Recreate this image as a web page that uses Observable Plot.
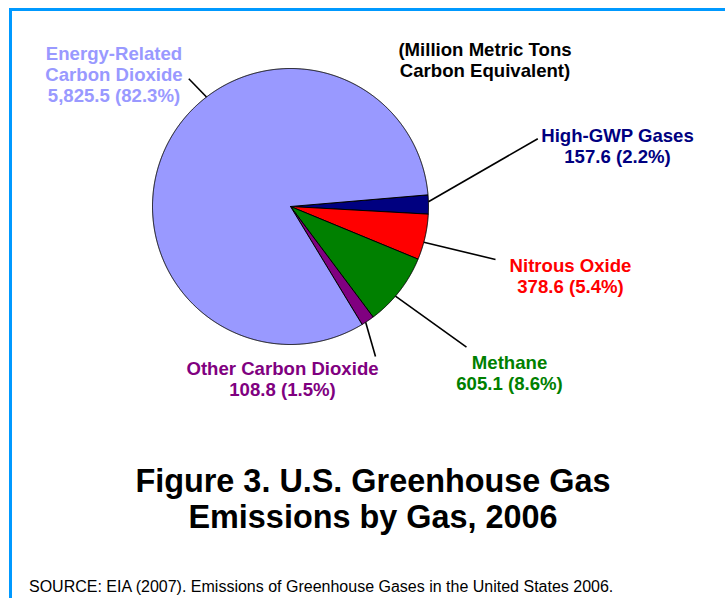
<!DOCTYPE html>
<html>
<head>
<meta charset="utf-8">
<script src="https://cdn.jsdelivr.net/npm/d3@7"></script>
<script src="https://cdn.jsdelivr.net/npm/@observablehq/plot@0.6"></script>
<style>
  html, body { margin: 0; padding: 0; background: #fff; overflow: hidden; }
  body { width: 725px; height: 598px; position: relative; font-family: "Liberation Sans", Arial, sans-serif; }
  #frame { position: absolute; left: 9px; top: 8px; width: 800px; height: 700px;
           border-top: 3px solid #0099FF; border-left: 3px solid #0099FF; z-index: 2; pointer-events: none; }
  #chart { position: absolute; left: 0; top: 0; z-index: 1; }
  #title { position: absolute; left: 0; top: 463px; width: 746px; text-align: center;
           font-weight: bold; font-size: 32.4px; line-height: 36px; color: #000; z-index: 1; }
  #source { position: absolute; left: 29px; top: 578px; font-size: 16px; line-height: 18px; color: #000; white-space: nowrap; z-index: 1; }
</style>
</head>
<body>
<div id="frame"></div>
<div id="chart"></div>
<div id="title">Figure 3. U.S. Greenhouse Gas<br>Emissions by Gas, 2006</div>
<div id="source">SOURCE: EIA (2007). Emissions of Greenhouse Gases in the United States 2006.</div>
<script>
// ---- Data ----
const categories = ["High-GWP Gases", "Nitrous Oxide", "Methane", "Other Carbon Dioxide", "Energy-Related Carbon Dioxide"];
const labelNames = ["High-GWP Gases", "Nitrous Oxide", "Methane", "Other Carbon Dioxide", "Energy-Related\nCarbon Dioxide"];
const values = [157.6, 378.6, 605.1, 108.8, 5825.5];
const unitNote = "(Million Metric Tons\nCarbon Equivalent)";

// ---- Styles / layout ----
const colors = ["#000080", "#FF0000", "#008000", "#800080", "#9999FF"];
const R = 138;                       // pie radius (px)
const startDeg = 85.15;              // first slice start angle (clockwise from 12 o'clock)
const labelPos = [[327, -44], [280, 86.5], [219, 183], [-8, 189], [-176.5, -105]];   // last-line baseline, relative to pie centre
const leaderEnd = [[247.3, -67.7], [205, 53], [176, 140.7], [85, 150], [-101.7, -127.7]];
const leaderDeg = [88, 105, 130.5, 147, 322.5];
const notePos = [194.5, -130];
const labelSize = 18.6;

const total = d3.sum(values);
const fmtV = d3.format(",.1f");
const fmtP = d3.format(".1f");

const arcs = d3.pie().sort(null)
  .startAngle(startDeg * Math.PI / 180)
  .endAngle(startDeg * Math.PI / 180 + 2 * Math.PI)(values);

const slicePts = [];
arcs.forEach((a, i) => {
  const cat = categories[i];
  slicePts.push({cat, x: 0, y: 0});
  const n = Math.max(2, Math.ceil((a.endAngle - a.startAngle) / (Math.PI / 720)));
  for (let k = 0; k <= n; k++) {
    const t = a.startAngle + (a.endAngle - a.startAngle) * k / n;
    slicePts.push({cat, x: R * Math.sin(t), y: -R * Math.cos(t)});
  }
  slicePts.push({cat, x: 0, y: 0});
});

const labels = categories.map((c, i) => ({
  cat: c,
  text: `${labelNames[i]}\n${fmtV(values[i])} (${fmtP(values[i] / total * 100)}%)`,
  x: labelPos[i][0], y: labelPos[i][1]
}));

const leaders = categories.map((c, i) => {
  const t = leaderDeg[i] * Math.PI / 180;
  return {cat: c, x1: R * Math.sin(t), y1: -R * Math.cos(t), x2: leaderEnd[i][0], y2: leaderEnd[i][1]};
});

const cx = 290, cy = 206, W = 725, H = 420;

const plot = Plot.plot({
  width: W, height: H,
  margin: 0,
  x: {domain: [-cx, W - cx], range: [0, W], axis: null},
  y: {domain: [-cy, H - cy], range: [0, H], axis: null},
  color: {domain: categories, range: colors},
  style: {fontFamily: "'Liberation Sans', Arial, sans-serif", background: "transparent", overflow: "visible"},
  marks: [
    Plot.line(slicePts, {x: "x", y: "y", z: "cat", fill: "cat", stroke: "black", strokeWidth: 1, strokeLinejoin: "round", curve: "linear"}),
    Plot.link(leaders, {x1: "x1", y1: "y1", x2: "x2", y2: "y2", stroke: "black", strokeWidth: 1.6}),
    Plot.text(labels, {x: "x", y: "y", text: "text", fill: "cat", fontSize: labelSize, fontWeight: "bold",
      textAnchor: "middle", lineAnchor: "bottom", lineHeight: 21 / labelSize}),
    Plot.text([unitNote], {x: () => notePos[0], y: () => notePos[1], text: d => d, fill: "black", fontSize: labelSize, fontWeight: "bold",
      textAnchor: "middle", lineAnchor: "bottom", lineHeight: 21 / labelSize})
  ]
});
document.getElementById("chart").appendChild(plot);
</script>
</body>
</html>
